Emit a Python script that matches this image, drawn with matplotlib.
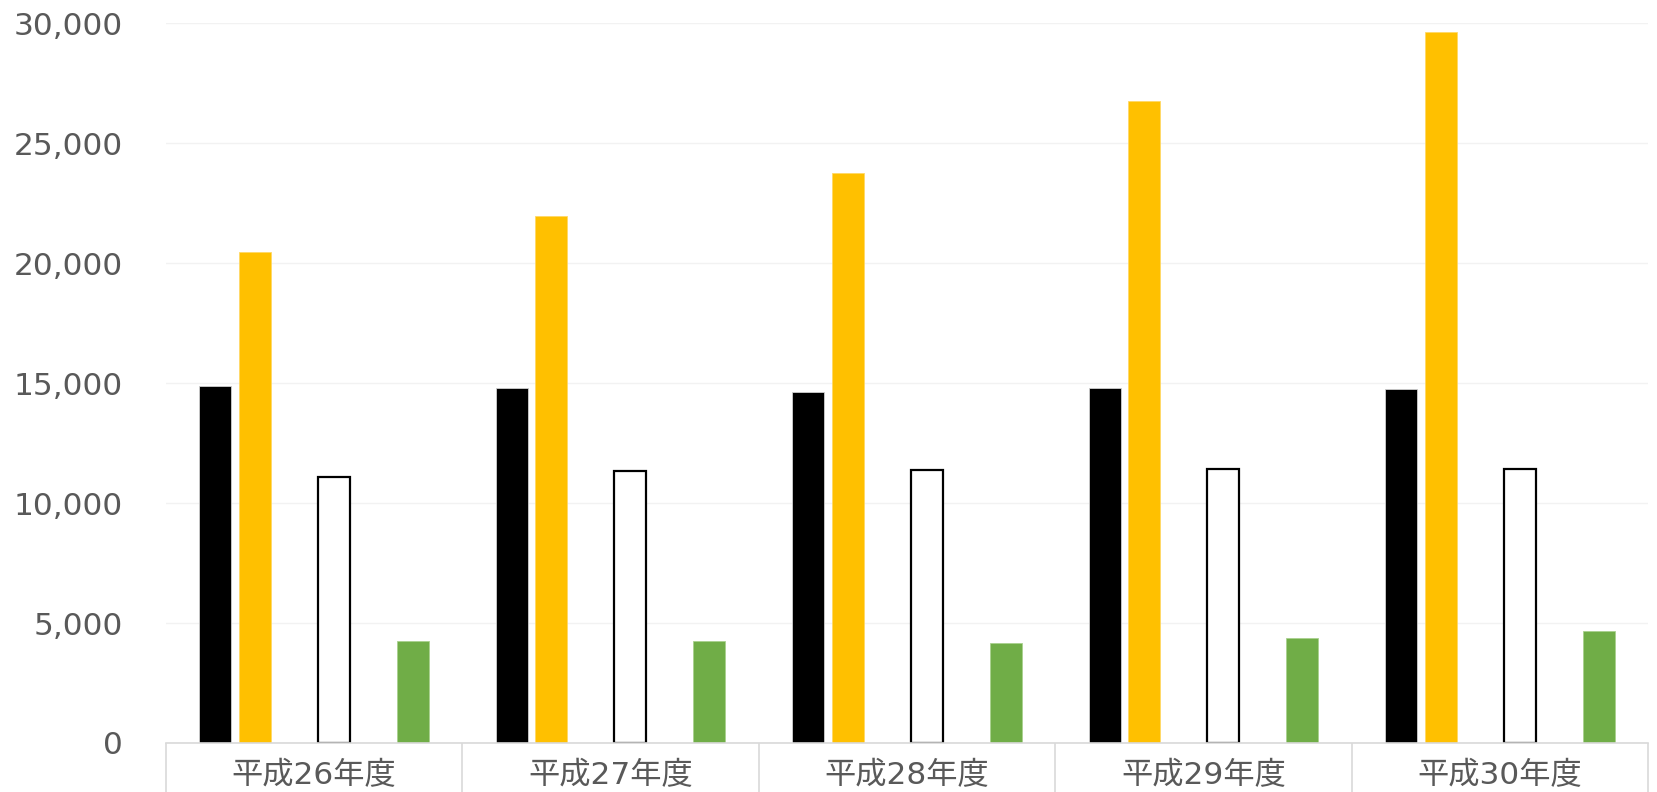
import matplotlib as mpl
mpl.use('Agg')
import matplotlib.pyplot as plt
from matplotlib.ticker import FuncFormatter, FixedLocator
import numpy as np

# DejaVu for digits (Verdana-like, as in the original), CJK font for kanji
plt.rcParams['font.family'] = ['DejaVu Sans', 'Noto Sans CJK JP']

# data
years = ['平成26年度', '平成27年度', '平成28年度', '平成29年度', '平成30年度']
black_vals = [14890, 14810, 14610, 14780, 14770]
yellow_vals = [20470, 21970, 23740, 26780, 29630]
white_vals = [11100, 11350, 11380, 11420, 11420]
green_vals = [4250, 4240, 4170, 4390, 4670]

fig = plt.figure(figsize=(16.57, 7.92), dpi=100)
ax = fig.add_axes([0.1002, 0.0619, 0.8944, 0.9087])

x = np.arange(len(years))
pitch = 0.1333
w = 0.108

ax.bar(x - 2.5 * pitch, black_vals, w, color='black', edgecolor='#d0d0d0', linewidth=0.6, zorder=3)
ax.bar(x - 1.5 * pitch, yellow_vals, w, color='#ffc000', edgecolor='#ffd966', linewidth=0.6, zorder=3)
ax.bar(x + 0.5 * pitch, white_vals, w, color='white', edgecolor='black', linewidth=1.6, zorder=3)
ax.bar(x + 2.5 * pitch, green_vals, w, color='#70ad47', edgecolor='#a9d18e', linewidth=0.6, zorder=3)

ax.set_xlim(-0.5, len(years) - 0.5)
ax.set_ylim(0, 30000)
ax.set_yticks(range(0, 30001, 5000))
ax.yaxis.set_major_formatter(FuncFormatter(lambda v, p: '{:,.0f}'.format(v)))
ax.yaxis.grid(True, color='#f2f2f2', linewidth=1.0, zorder=0)
ax.tick_params(axis='y', length=0, pad=31, labelsize=22.5, labelcolor='#595959')

# category dividers below the axis, labels in between
ax.xaxis.set_major_locator(FixedLocator(np.arange(-0.5, len(years), 1.0)))
ax.xaxis.set_minor_locator(FixedLocator(x))
ax.xaxis.set_major_formatter(FuncFormatter(lambda v, p: ''))
ax.set_xticklabels(years, minor=True)
ax.tick_params(axis='x', which='major', length=50, width=1.2, color='#d9d9d9', direction='out')
ax.tick_params(axis='x', which='minor', length=0, pad=13, labelsize=22.5, labelcolor='#595959')

for s in ['top', 'right', 'left']:
    ax.spines[s].set_visible(False)
ax.spines['bottom'].set_color('#d9d9d9')
ax.spines['bottom'].set_linewidth(1.2)
ax.spines['bottom'].set_zorder(4)

plt.savefig('out.png', dpi=100)
